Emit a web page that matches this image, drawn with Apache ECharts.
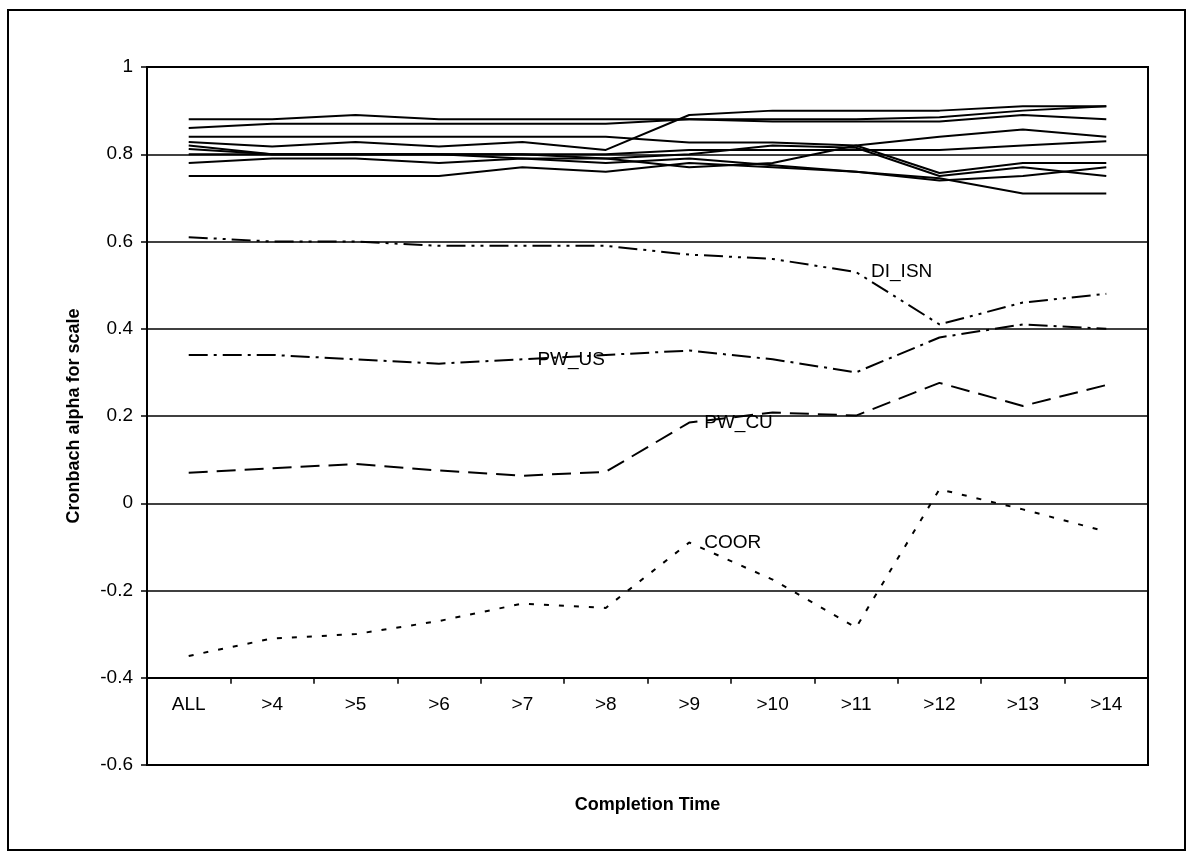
<!DOCTYPE html>
<html>
<head>
<meta charset="utf-8">
<script src="https://cdn.jsdelivr.net/npm/echarts@6/dist/echarts.min.js"></script>
<style>
  html, body { margin: 0; padding: 0; background: #fff; }
  #chart { width: 1194px; height: 863px; }
</style>
</head>
<body>
<div id="chart"></div>
<script>
// categories on the x axis
var categories = ['ALL', '>4', '>5', '>6', '>7', '>8', '>9', '>10', '>11', '>12', '>13', '>14'];

// the unlabelled scales (solid lines)
var scaleA = [0.88, 0.88, 0.89, 0.88, 0.88, 0.88, 0.88, 0.875, 0.875, 0.875, 0.89, 0.88];
var scaleB = [0.86, 0.87, 0.87, 0.87, 0.87, 0.87, 0.88, 0.88, 0.88, 0.885, 0.90, 0.91];
var scaleC = [0.828, 0.818, 0.828, 0.818, 0.828, 0.81, 0.89, 0.90, 0.90, 0.90, 0.91, 0.91];
var scaleD = [0.84, 0.84, 0.84, 0.84, 0.84, 0.84, 0.827, 0.827, 0.82, 0.84, 0.857, 0.84];
var scaleE = [0.82, 0.80, 0.80, 0.80, 0.80, 0.80, 0.81, 0.81, 0.81, 0.81, 0.82, 0.83];
var scaleF = [0.812, 0.80, 0.80, 0.80, 0.79, 0.79, 0.77, 0.78, 0.82, 0.757, 0.78, 0.78];
var scaleG = [0.80, 0.80, 0.80, 0.80, 0.80, 0.79, 0.80, 0.82, 0.815, 0.75, 0.77, 0.75];
var scaleH = [0.78, 0.79, 0.79, 0.78, 0.79, 0.78, 0.79, 0.775, 0.76, 0.745, 0.71, 0.71];
var scaleI = [0.75, 0.75, 0.75, 0.75, 0.77, 0.76, 0.78, 0.77, 0.76, 0.74, 0.75, 0.77];

// the labelled scales
var diIsn = [0.61, 0.60, 0.60, 0.59, 0.59, 0.59, 0.57, 0.56, 0.53, 0.41, 0.46, 0.48];
var pwUs  = [0.34, 0.34, 0.33, 0.32, 0.33, 0.34, 0.35, 0.33, 0.30, 0.38, 0.41, 0.40];
var pwCu  = [0.07, 0.08, 0.09, 0.075, 0.063, 0.072, 0.185, 0.208, 0.201, 0.276, 0.223, 0.271];
var coor  = [-0.35, -0.31, -0.30, -0.27, -0.23, -0.24, -0.09, -0.175, -0.285, 0.032, -0.014, -0.065];

var FONT = 'Liberation Sans, Arial, sans-serif';

var solid = [scaleA, scaleB, scaleC, scaleD, scaleE, scaleF, scaleG, scaleH, scaleI];

function lineSeries(name, values, dash, labelAt) {
    return {
        name: name,
        type: 'line',
        symbol: 'circle',
        symbolSize: 0,
        showSymbol: true,
        silent: true,
        lineStyle: { color: '#000', width: 2, type: dash || 'solid' },
        itemStyle: { color: '#000' },
        data: values.map(function (v, i) {
            if (i !== labelAt) return v;
            return {
                value: v,
                label: {
                    show: true,
                    position: 'right',
                    distance: 15,
                    formatter: name,
                    color: '#000',
                    fontFamily: FONT,
                    fontSize: 19
                }
            };
        })
    };
}

var series = solid.map(function (d, i) { return lineSeries('s' + i, d, 'solid', -1); });
series.push(lineSeries('DI_ISN', diIsn, [19, 6, 3, 6, 3, 6], 8));
series.push(lineSeries('PW_US', pwUs, [19, 6, 3, 6], 4));
series.push(lineSeries('PW_CU', pwCu, [19, 9], 6));
series.push(lineSeries('COOR', coor, [5, 10], 6));

var chart = echarts.init(document.getElementById('chart'));
chart.setOption({
    animation: false,
    backgroundColor: '#fff',
    grid: {
        left: 147, top: 67, width: 1001, height: 698,
        show: true, borderColor: '#000', borderWidth: 2
    },
    graphic: [{
        type: 'rect',
        shape: { x: 8, y: 10, width: 1177, height: 840 },
        style: { fill: 'none', stroke: '#000', lineWidth: 2 },
        silent: true
    }],
    xAxis: {
        type: 'category',
        data: categories,
        boundaryGap: true,
        position: 'bottom',
        offset: -87.3,
        axisLine: { onZero: false, lineStyle: { color: '#000', width: 2 } },
        axisTick: { show: true, interval: 0, length: 6, lineStyle: { color: '#000', width: 1.5 } },
        axisLabel: { interval: 0, margin: 18, color: '#000', fontFamily: FONT, fontSize: 19 },
        splitLine: { show: false },
        name: 'Completion Time',
        nameLocation: 'middle',
        nameGap: 118,
        nameTextStyle: { color: '#000', fontFamily: FONT, fontSize: 18, fontWeight: 'bold' }
    },
    yAxis: {
        type: 'value',
        min: -0.6, max: 1, interval: 0.2,
        axisLine: { show: true, lineStyle: { color: '#000', width: 2 } },
        axisTick: { show: true, length: 6, lineStyle: { color: '#000', width: 1.5 } },
        axisLabel: { margin: 14, color: '#000', fontFamily: FONT, fontSize: 19 },
        splitLine: { show: true, lineStyle: { color: '#000', width: 1.5 } },
        name: 'Cronbach alpha for scale',
        nameLocation: 'middle',
        nameRotate: 90,
        nameGap: 64,
        nameTextStyle: { color: '#000', fontFamily: FONT, fontSize: 18, fontWeight: 'bold' }
    },
    series: series
});
</script>
</body>
</html>
